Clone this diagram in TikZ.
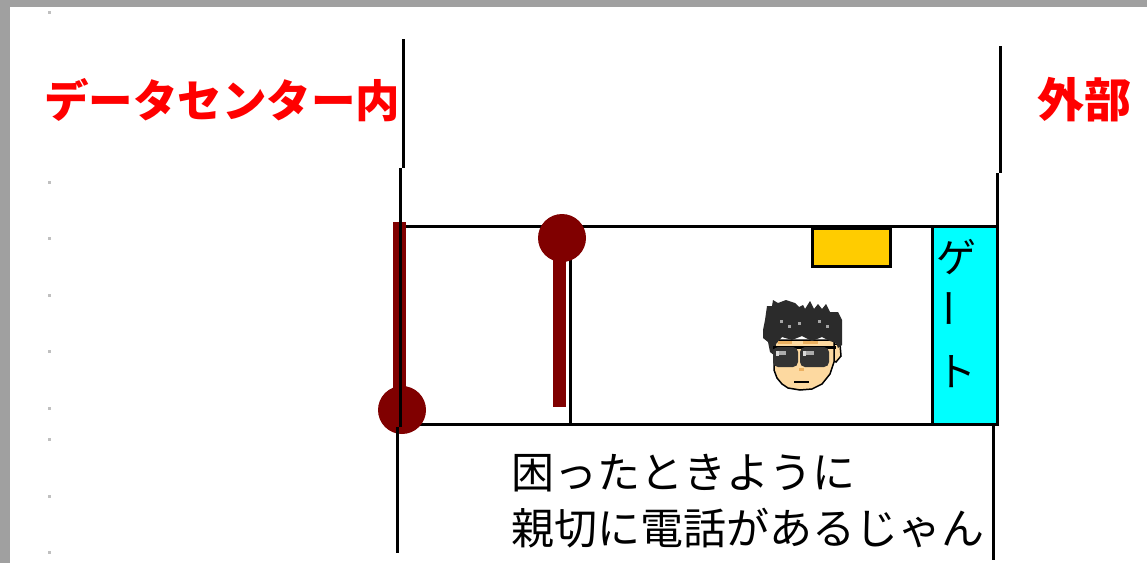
\documentclass[tikz,border=0pt]{standalone}
\usepackage{fontspec}
\newfontfamily\jp{Noto Sans CJK JP}
\definecolor{frame}{HTML}{A0A0A0}
\definecolor{dotgray}{HTML}{C0C0C0}
\definecolor{maroon}{HTML}{800000}
\definecolor{gold}{HTML}{FFCC00}
\definecolor{aqua}{HTML}{00FFFF}
\definecolor{skin}{HTML}{FDD9A0}
\definecolor{tan}{HTML}{EBB060}
\definecolor{hair}{HTML}{2B2B2B}
\definecolor{lens}{HTML}{333333}
\begin{document}
\begin{tikzpicture}[x=1pt,y=-1pt,
  wall/.style={line width=3pt,black},
  pole/.style={fill=maroon,draw=none},
  redlabel/.style={inner sep=0pt,anchor=west,text=red,font=\jp\bfseries},
  note/.style={inner sep=0pt,anchor=west,font=\jp\fontsize{43}{55}\selectfont},
  gatechar/.style={inner sep=0pt,font=\jp\fontsize{40}{40}\selectfont}]
\useasboundingbox (0,0) rectangle (1147,563);
% page background and window frame
\fill[white] (0,0) rectangle (1147,563);
\fill[frame] (0,0) rectangle (10,563);
\fill[frame] (0,0) rectangle (1147,7);
% margin dots
\foreach \yy in {11,181,237,294,350,407,438,495,551}
  \fill[dotgray] (48,\yy) rectangle (51,\yy+3);

% zone labels
\node[redlabel,font=\jp\bfseries\fontsize{44.5}{44.5}\selectfont] (inside) at (44,100) {データセンター内};
\node[redlabel,font=\jp\bfseries\fontsize{47}{47}\selectfont] (outside) at (1037,100) {外部};

% corridor
\draw[wall] (400,226) -- (997,226);
\draw[wall] (400,424) -- (997,424);
\draw[wall] (570,226) -- (570,424);
% gate
\draw[wall,fill=aqua] (932,226) rectangle (997,424);
\node[gatechar] (g1) at (956,257) {ゲ};
\node[gatechar,rotate=90] (g2) at (956,308) {ー};
\node[gatechar] (g3) at (956,372) {ト};
% phone
\draw[wall,fill=gold] (812.5,228.5) rectangle (890.5,266.5);

% right boundary
\draw[wall] (1000,46) -- (1000,173);
\draw[wall] (997,173) -- (997,426);
\draw[wall] (993,426) -- (993,560);

% barriers
\fill[pole] (393,222) rectangle (406,410);
\fill[pole] (402,410) circle[radius=24pt];
\fill[pole] (553,238) rectangle (566,407);
\fill[pole] (562,238) circle[radius=24pt];

% left boundary
\draw[wall] (403,39) -- (403,168);
\draw[wall] (400,168) -- (400,427);
\draw[wall] (397,427) -- (397,553);

% man with sunglasses
\draw[line width=1.5pt,fill=skin] (833,344) -- (840,344) -- (841,356) -- (836,362) -- (832,360) -- cycle;
\draw[line width=1.5pt,fill=skin] (774,340) -- (774,370) -- (777,378) -- (782,384) -- (788,388)
  -- (800,390) -- (812,389) -- (822,384) -- (830,374) -- (834,362) -- (834,340) -- cycle;
\fill[hair] (763,330) -- (765,320) -- (767,306) -- (772,306) -- (773,300) -- (778,303)
  -- (786,300) -- (795,303) -- (799,307) -- (803,305) -- (805,309) -- (810,301)
  -- (814,309) -- (818,304) -- (822,309) -- (826,304) -- (830,312) -- (838,312)
  -- (842,320) -- (842,345) -- (838,348) -- (836,343) -- (830,341) -- (822,337)
  -- (812,341) -- (802,336) -- (792,340) -- (782,337) -- (776,344) -- (775,356)
  -- (770,352) -- (768,342) -- (763,338) -- cycle;
\foreach \hx/\hy in {780/320,788/325,798/322,818/320,826/325}
  \fill[gray!70] (\hx,\hy) rectangle (\hx+3,\hy+3);
\fill[tan] (778,341) rectangle (792,344);
\fill[tan] (803,341) rectangle (818,344);
\fill[black] (773,346) rectangle (836,349);
\fill[lens,rounded corners=5pt] (773,347) rectangle (798,367);
\fill[lens,rounded corners=5pt] (800,347) rectangle (829,367);
\fill[gray!30] (776,351) rectangle (779,356);
\fill[gray!30] (803,351) rectangle (806,356);
\fill[gray!65] (779,351) rectangle (786,355);
\fill[gray!65] (806,351) rectangle (814,355);
\fill[tan] (799,368) rectangle (804,371);
\draw[line width=2pt] (794,382) -- (809,382);

% caption
\node[note] (line1) at (511,473) {困ったときように};
\node[note] (line2) at (511,528) {親切に電話があるじゃん};
\end{tikzpicture}
\end{document}
